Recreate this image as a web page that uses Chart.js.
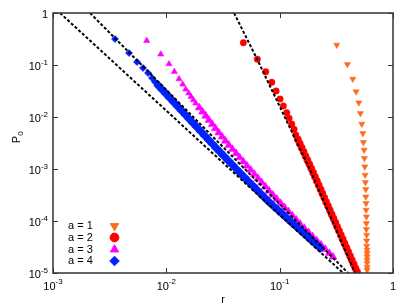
<!DOCTYPE html>
<html>
<head>
<meta charset="utf-8">
<script src="https://cdn.jsdelivr.net/npm/chart.js@4.4.4/dist/chart.umd.min.js"></script>
<style>html,body{margin:0;padding:0;background:#fff;}</style>
</head>
<body>
<canvas id="c" width="409" height="308"></canvas>
<script>
// values, as [r, P0] pairs
const seriesLabels = ["a = 1", "a = 2", "a = 3", "a = 4"];
const a1Points = [[0.319,0.2425],[0.396,0.1031],[0.4417,0.0538],[0.4724,0.0307],[0.4991,0.01884],[0.5157,0.01178],[0.5305,7.33e-3],[0.5414,4.86e-3],[0.548,3.26e-3],[0.5559,2.32e-3],[0.5594,1.61e-3],[0.5639,1.107e-3],[0.5674,7.67e-4],[0.5708,5.55e-4],[0.5754,4.07e-4],[0.5754,2.93e-4],[0.5789,2.19e-4],[0.5789,1.63e-4],[0.5823,1.21e-4],[0.5823,9.03e-5],[0.5823,6.92e-5],[0.5859,5.38e-5],[0.5859,4.18e-5],[0.5859,3.3e-5],[0.5907,2.77e-5],[0.5907,2.39e-5],[0.5907,2.06e-5],[0.5907,1.78e-5],[0.5907,1.54e-5],[0.5907,1.29e-5],[0.5907,1.14e-5]];
const a2Points = [[0.04781,0.2685],[0.06356,0.1288],[0.07539,0.0743],[0.0852,0.0465],[0.093,0.0316],[0.1008,0.0222],[0.1078,0.0163],[0.1155,0.0121],[0.1211,9.44e-3],[0.1279,7.33e-3],[0.134,5.8e-3],[0.1387,4.51e-3],[0.1445,3.715e-3],[0.1503,3.09e-3],[0.1563,2.57e-3],[0.1626,2.14e-3],[0.169,1.778e-3],[0.1758,1.479e-3],[0.1828,1.23e-3],[0.1901,1.023e-3],[0.1974,8.51e-4],[0.2049,7.08e-4],[0.2128,5.89e-4],[0.2209,4.9e-4],[0.2294,4.07e-4],[0.2381,3.39e-4],[0.2472,2.82e-4],[0.2567,2.34e-4],[0.2666,1.95e-4],[0.2768,1.622e-4],[0.2873,1.349e-4],[0.2984,1.122e-4],[0.3099,9.33e-5],[0.3216,7.76e-5],[0.3338,6.46e-5],[0.3465,5.37e-5],[0.3596,4.47e-5],[0.3731,3.72e-5],[0.3873,3.09e-5],[0.402,2.57e-5],[0.4173,2.14e-5],[0.433,1.778e-5],[0.4495,1.479e-5],[0.4665,1.23e-5],[0.4819,1.047e-5]];
const a3Points = [[6.714e-3,0.2934],[8.926e-3,0.1606],[0.01056,0.1045],[0.01177,0.0743],[0.01294,0.0538],[0.01395,0.0425],[0.01483,0.0341],[0.01577,0.02856],[0.01652,0.02457],[0.01731,0.02123],[0.01817,0.01834],[0.0195,0.01514],[0.02086,0.01259],[0.02229,0.01047],[0.02379,8.71e-3],[0.02539,7.24e-3],[0.02709,6.03e-3],[0.029,5.01e-3],[0.03103,4.17e-3],[0.03319,3.47e-3],[0.03561,2.88e-3],[0.03833,2.4e-3],[0.04123,2.0e-3],[0.04436,1.66e-3],[0.0478,1.38e-3],[0.05149,1.148e-3],[0.0555,9.55e-4],[0.05979,7.94e-4],[0.06443,6.61e-4],[0.06942,5.5e-4],[0.0748,4.57e-4],[0.0806,3.8e-4],[0.08711,3.16e-4],[0.0943,2.63e-4],[0.1021,2.19e-4],[0.1105,1.82e-4],[0.1196,1.514e-4],[0.1295,1.259e-4],[0.1401,1.047e-4],[0.1518,8.71e-5],[0.1651,7.24e-5],[0.1797,6.03e-5],[0.1955,5.01e-5],[0.2128,4.17e-5],[0.2316,3.47e-5],[0.252,2.88e-5],[0.2742,2.4e-5],[0.2952,2.04e-5]];
const a4Points = [[3.525e-3,0.3162],[4.686e-3,0.1701],[5.512e-3,0.1142],[6.229e-3,0.0876],[6.896e-3,0.0702],[7.478e-3,0.0562],[7.947e-3,0.0471],[8.536e-3,0.0398],[9.232e-3,0.0331],[9.984e-3,0.02754],[0.0108,0.02291],[0.01168,0.01905],[0.01263,0.01585],[0.01366,0.01318],[0.01477,0.01096],[0.01597,9.12e-3],[0.01727,7.59e-3],[0.01868,6.31e-3],[0.0202,5.25e-3],[0.02185,4.37e-3],[0.02362,3.63e-3],[0.02555,3.02e-3],[0.02763,2.51e-3],[0.02994,2.09e-3],[0.03248,1.738e-3],[0.03524,1.445e-3],[0.03824,1.202e-3],[0.0415,1.0e-3],[0.045,8.32e-4],[0.04885,6.92e-4],[0.05312,5.75e-4],[0.05781,4.79e-4],[0.06289,3.98e-4],[0.06846,3.31e-4],[0.07452,2.75e-4],[0.0811,2.29e-4],[0.08892,1.905e-4],[0.09768,1.585e-4],[0.1073,1.318e-4],[0.1179,1.096e-4],[0.1295,9.12e-5],[0.1422,7.59e-5],[0.1562,6.31e-5],[0.1717,5.25e-5],[0.1886,4.37e-5],[0.2072,3.63e-5],[0.2276,3.02e-5]];

// dashed guide lines
const fitLow = [[1.153e-3,1],[0.3627,1e-5]];
const fitMid = [[2.121e-3,1],[0.4015,1e-5]];
const fitSteep = [[0.03959,1],[0.06317,0.1304],[0.1855,9.57e-4],[0.4628,1e-5]];

const xTickValues = [1e-3, 1e-2, 1e-1, 1];
const yTickValues = [1e-5, 1e-4, 1e-3, 1e-2, 1e-1, 1];

const FONT = "'Liberation Sans', Arial, sans-serif";
const toXY = pts => pts.map(([x, y]) => ({ x, y }));

// where the sparse head of each series turns into the dense band
const markerStyles = [
  { color: "#ff6a1f", pointStyle: "triangle", rotation: 180, radius: 3.6, band: 999, bandRadius: 3.6 },
  { color: "#ff0000", pointStyle: "circle", rotation: 0, radius: 3.2, band: 12, bandRadius: 3.6 },
  { color: "#ff00ff", pointStyle: "triangle", rotation: 0, radius: 3.6, band: 11, bandRadius: 4.6 },
  { color: "#0022ff", pointStyle: "rectRot", rotation: 0, radius: 3.6, band: 7, bandRadius: 4.8 },
];

function fitLine(pts) {
  return {
    data: toXY(pts), showLine: true, pointRadius: 0,
    borderColor: "#000", borderWidth: 2, borderDash: [3, 2],
  };
}
function markerSet(pts, i) {
  const s = markerStyles[i];
  return {
    label: seriesLabels[i], data: toXY(pts),
    pointStyle: s.pointStyle, pointRotation: s.rotation,
    pointRadius: ctx => (ctx.dataIndex >= s.band ? s.bandRadius : s.radius),
    backgroundColor: s.color, borderColor: s.color, pointBorderWidth: 0.5,
    showLine: false,
  };
}

function label10(v) {
  if (v === 1) return ["1", ""];
  return ["10", String(Math.round(Math.log10(v)))];
}

const framePlugin = {
  id: "frame",
  afterDraw(chart) {
    const { ctx, chartArea: a, scales: { x, y } } = chart;
    ctx.save();
    ctx.strokeStyle = "#333";
    ctx.lineWidth = 1.5;
    ctx.strokeRect(a.left, a.top, a.right - a.left, a.bottom - a.top);
    ctx.lineWidth = 1;
    ctx.beginPath();
    xTickValues.forEach(v => {
      const px = Math.round(x.getPixelForValue(v)) + 0.5;
      ctx.moveTo(px, a.bottom); ctx.lineTo(px, a.bottom - 5);
      ctx.moveTo(px, a.top); ctx.lineTo(px, a.top + 5);
    });
    yTickValues.forEach(v => {
      const py = Math.round(y.getPixelForValue(v)) + 0.5;
      ctx.moveTo(a.left, py); ctx.lineTo(a.left + 5, py);
      ctx.moveTo(a.right, py); ctx.lineTo(a.right - 5, py);
    });
    ctx.stroke();

    ctx.fillStyle = "#000";
    ctx.textBaseline = "alphabetic";
    xTickValues.forEach(v => {
      const [b, e] = label10(v);
      ctx.font = "11px " + FONT;
      const wb = ctx.measureText(b).width;
      ctx.font = "8px " + FONT;
      const we = e ? ctx.measureText(e).width : 0;
      const px = x.getPixelForValue(v);
      const x0 = px - (wb + we) / 2;
      ctx.font = "11px " + FONT;
      ctx.textAlign = "left";
      ctx.fillText(b, x0, a.bottom + 17);
      if (e) { ctx.font = "8px " + FONT; ctx.fillText(e, x0 + wb, a.bottom + 11); }
    });
    yTickValues.forEach(v => {
      const [b, e] = label10(v);
      const py = y.getPixelForValue(v);
      ctx.font = "8px " + FONT;
      const we = e ? ctx.measureText(e).width : 0;
      const xr = a.left - 5;
      ctx.textAlign = "right";
      if (e) ctx.fillText(e, xr, py);
      ctx.font = "11px " + FONT;
      ctx.fillText(b, xr - we, py + 5);
    });

    // axis titles
    ctx.font = "11px " + FONT;
    ctx.textAlign = "center";
    ctx.fillText("r", (a.left + a.right) / 2, 303);
    ctx.save();
    ctx.translate(20, 137);
    ctx.rotate(-Math.PI / 2);
    ctx.textAlign = "left";
    const wp = ctx.measureText("P").width;
    ctx.fillText("P", -(wp + 5) / 2, 0);
    ctx.font = "8px " + FONT;
    ctx.fillText("0", -(wp + 5) / 2 + wp, 3);
    ctx.restore();
    ctx.restore();
  },
};

const legendPlugin = {
  id: "keyBox",
  afterDraw(chart) {
    const { ctx } = chart;
    const rowsY = [226, 237.5, 249.5, 261];
    ctx.save();
    ctx.font = "11px " + FONT;
    ctx.textAlign = "left";
    ctx.textBaseline = "middle";
    seriesLabels.forEach((t, i) => {
      const s = markerStyles[i];
      ctx.fillStyle = "#000";
      ctx.fillText(t, 68, rowsY[i]);
      ctx.fillStyle = s.color;
      ctx.strokeStyle = s.color;
      Chart.helpers.drawPoint(ctx, { pointStyle: s.pointStyle, rotation: s.rotation, radius: s.radius + 1.2, borderWidth: 0.5 }, 114.5, rowsY[i]);
    });
    ctx.restore();
  },
};

new Chart(document.getElementById("c"), {
  type: "scatter",
  data: {
    datasets: [
      fitLine(fitLow), fitLine(fitMid), fitLine(fitSteep),
      markerSet(a4Points, 3), markerSet(a3Points, 2), markerSet(a2Points, 1), markerSet(a1Points, 0),
    ],
  },
  options: {
    responsive: false,
    animation: false,
    layout: { padding: { top: 13, right: 16, left: 0, bottom: 0 } },
    plugins: { legend: { display: false }, tooltip: { enabled: false } },
    scales: {
      x: {
        type: "logarithmic", min: 1e-3, max: 1,
        grid: { display: false }, border: { display: false }, ticks: { display: false },
        afterBuildTicks: s => { s.ticks = xTickValues.map(v => ({ value: v })); },
        afterFit: s => { s.height = 35; },
      },
      y: {
        type: "logarithmic", min: 1e-5, max: 1,
        grid: { display: false }, border: { display: false }, ticks: { display: false },
        afterBuildTicks: s => { s.ticks = yTickValues.map(v => ({ value: v })); },
        afterFit: s => { s.width = 53; },
      },
    },
  },
  plugins: [framePlugin, legendPlugin],
});
</script>
</body>
</html>
